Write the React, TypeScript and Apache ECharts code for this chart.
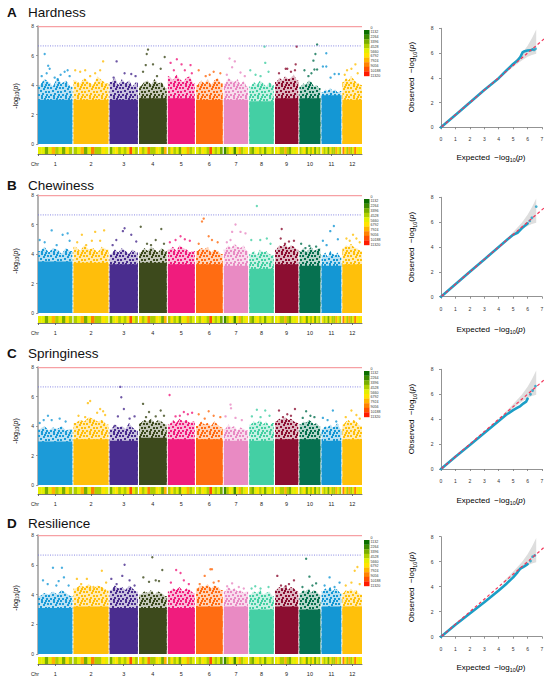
import React, { useEffect, useRef } from "react";
import * as echarts from "echarts";

// ---------- data ----------
const chrNames = ["1", "2", "3", "4", "5", "6", "7", "8", "9", "10", "11", "12"];
const chrLen = [34.4, 35.0, 28.3, 27.7, 27.0, 26.7, 24.3, 24.6, 23.3, 21.0, 19.7, 19.6];
const chrGap = 1.2;
const chrColors = ["#1C9BD8", "#FFBE0B", "#4A2D8F", "#3D4A1C", "#F01C7D", "#FF6C12", "#E98AC3", "#44CFA4", "#8C0E31", "#067150", "#1497D4", "#FFC00A"];
const traitNames = ["Hardness", "Chewiness", "Springiness", "Resilience"];
const panelLetters = ["A", "B", "C", "D"];
const thresholdRed = 7.96;
const thresholdBlue = 6.65;
const densityBreaks = [0, 1132, 2264, 3396, 4528, 5660, 6792, 7924, 9056, 10188, 11320];
const densityColors = ["#0B6E00", "#3E8A00", "#78AE00", "#B0CF00", "#E4EE00", "#FFE400", "#FFB400", "#FF8200", "#FF5000", "#FF1A00"];

const snpDensity = [
  [4600, 5500, 3200, 5000, 6900, 4100, 5300, 2600, 5800, 4400],
  [4200, 5100, 6800, 3300, 4700, 8200, 4500, 3800, 5700, 4900],
  [3000, 4800, 6200, 4300, 5100, 3600, 5900, 9400, 4600, 4100],
  [6300, 3700, 5000, 8700, 4500, 4100, 5800, 4700, 3300, 7100],
  [4400, 5800, 3800, 5200, 3100, 6000, 4600, 7600, 4000, 5100],
  [5300, 4100, 6300, 4600, 3500, 9100, 5000, 4300, 5600, 3000],
  [1600, 3900, 5900, 4700, 1200, 5200, 7200, 3800, 5000, 6500],
  [4300, 2800, 5100, 5900, 4000, 4600, 3200, 5600, 4800, 4100],
  [5000, 6000, 3700, 4500, 7700, 3900, 3300, 5200, 4600, 6300],
  [3600, 4900, 6400, 3000, 4600, 4300, 5700, 2700, 5000, 4400],
  [5900, 4000, 4900, 2900, 6700, 4500, 3800, 7400, 4700, 4200],
  [8200, 5700, 4400, 7300, 4100, 5200, 9000, 5800, 4800, 6300],
];

// solid body top of each chromosome cloud
const hardnessSolid = [3.0, 3.0, 3.0, 3.1, 3.1, 3.0, 3.0, 2.9, 3.1, 3.1, 3.3, 3.0];
const chewinessSolid = [3.5, 3.4, 3.3, 3.4, 3.3, 3.3, 3.2, 3.0, 3.3, 3.2, 3.2, 3.3];
const springinessSolid = [2.95, 3.1, 3.0, 3.2, 3.1, 3.1, 3.0, 3.0, 3.1, 3.1, 3.0, 3.1];
const resilienceSolid = [3.1, 3.2, 3.1, 3.1, 3.1, 3.2, 3.2, 3.0, 3.2, 3.0, 3.2, 3.2];

// upper edge of the dense spray (8 bins per chromosome)
const hardnessSpray = [
  [4.0, 4.4, 4.2, 3.9, 4.5, 4.1, 4.3, 3.9],
  [4.3, 4.1, 4.5, 4.2, 4.0, 4.6, 4.3, 4.1],
  [4.2, 4.5, 4.0, 4.4, 4.1, 4.3, 3.9, 4.2],
  [3.9, 4.2, 4.3, 4.0, 4.4, 4.1, 4.2, 3.8],
  [4.6, 4.3, 4.7, 4.4, 4.2, 4.5, 4.6, 4.1],
  [4.0, 4.3, 4.1, 4.4, 4.0, 4.3, 4.5, 4.1],
  [4.1, 4.5, 4.3, 4.2, 4.4, 4.0, 4.3, 3.9],
  [3.9, 4.2, 4.0, 4.3, 4.1, 3.9, 4.2, 4.0],
  [4.2, 4.5, 4.3, 4.6, 4.4, 4.5, 4.7, 4.3],
  [3.9, 4.1, 4.0, 4.3, 4.2, 3.9, 4.0, 3.8],
  [3.5, 3.7, 3.6, 3.8, 3.6, 3.7, 3.5, 3.6],
  [4.2, 4.5, 4.3, 4.6, 4.4, 4.2, 4.1, 4.0],
];
const chewinessSpray = [
  [4.2, 4.5, 4.1, 4.4, 4.3, 4.0, 4.4, 4.2],
  [4.5, 4.2, 4.6, 4.3, 4.4, 4.1, 4.5, 4.3],
  [4.0, 4.3, 4.1, 4.4, 4.2, 4.0, 4.3, 4.1],
  [4.1, 4.4, 4.2, 4.5, 4.3, 4.1, 4.4, 4.2],
  [4.3, 4.5, 4.2, 4.6, 4.4, 4.3, 4.1, 4.2],
  [4.2, 4.4, 4.3, 4.5, 4.1, 4.3, 4.2, 4.0],
  [4.3, 4.6, 4.4, 4.7, 4.5, 4.4, 4.6, 4.2],
  [4.0, 4.2, 3.9, 4.3, 4.1, 4.2, 4.0, 3.9],
  [4.3, 4.6, 4.5, 4.7, 4.4, 4.6, 4.5, 4.3],
  [4.2, 4.4, 4.1, 4.3, 4.5, 4.2, 4.3, 4.4],
  [3.9, 4.1, 3.8, 4.2, 4.0, 3.9, 4.1, 3.8],
  [4.4, 4.6, 4.5, 4.7, 4.5, 4.4, 4.3, 4.2],
];
const springinessSpray = [
  [3.8, 4.0, 3.7, 3.9, 3.8, 4.0, 3.7, 3.8],
  [4.2, 4.4, 4.3, 4.6, 4.5, 4.3, 4.4, 4.1],
  [3.8, 4.1, 3.9, 4.0, 3.8, 4.2, 3.9, 3.7],
  [4.2, 4.4, 4.3, 4.5, 4.2, 4.4, 4.3, 4.1],
  [4.1, 4.4, 4.2, 4.5, 4.3, 4.4, 4.2, 4.3],
  [4.0, 4.3, 4.1, 4.2, 4.0, 4.3, 4.1, 3.9],
  [3.8, 4.1, 3.9, 4.0, 3.7, 3.9, 3.8, 3.7],
  [4.1, 4.3, 4.2, 4.4, 4.1, 4.3, 4.0, 4.2],
  [4.3, 4.5, 4.4, 4.6, 4.4, 4.5, 4.3, 4.2],
  [4.1, 4.3, 4.2, 4.4, 4.3, 4.1, 4.2, 4.0],
  [3.8, 4.0, 3.9, 4.1, 3.9, 4.0, 4.2, 3.8],
  [4.1, 4.3, 4.4, 4.2, 4.4, 4.3, 4.1, 4.0],
];
const resilienceSpray = [
  [3.9, 4.1, 4.0, 4.2, 4.0, 4.3, 4.1, 3.9],
  [4.4, 4.6, 4.5, 4.7, 4.4, 4.6, 4.5, 4.3],
  [4.3, 4.6, 4.4, 4.5, 4.3, 4.6, 4.4, 4.2],
  [4.0, 4.2, 4.1, 4.3, 4.0, 4.2, 4.1, 3.9],
  [4.2, 4.4, 4.3, 4.5, 4.2, 4.4, 4.3, 4.1],
  [4.4, 4.6, 4.5, 4.7, 4.4, 4.6, 4.5, 4.3],
  [4.2, 4.5, 4.3, 4.4, 4.2, 4.3, 4.1, 4.2],
  [4.0, 4.2, 4.1, 4.3, 4.0, 4.1, 4.2, 3.9],
  [4.3, 4.5, 4.4, 4.6, 4.3, 4.5, 4.4, 4.2],
  [4.1, 4.3, 4.2, 4.4, 4.1, 4.3, 4.2, 4.0],
  [4.2, 4.4, 4.3, 4.5, 4.2, 4.4, 4.3, 4.1],
  [4.1, 4.3, 4.2, 4.4, 4.2, 4.3, 4.1, 4.0],
];

// top SNPs: [chromosome, position within chromosome, -log10(p)]
const hardnessPeaks = [
  [1, 6.7, 6.1], [1, 10.2, 5.3], [1, 11.7, 5.1], [1, 3.7, 4.6], [1, 8.7, 4.8], [1, 16.7, 4.5], [1, 22.7, 4.7], [1, 26.7, 4.9], [1, 29.7, 5.0], [1, 31.7, 4.6], [1, 19.7, 4.4],
  [2, 29.7, 5.6], [2, 1.7, 5.0], [2, 6.7, 4.9], [2, 11.7, 5.0], [2, 21.7, 4.8], [2, 26.7, 5.0], [2, 16.7, 4.6],
  [3, 7, 5.6], [3, 15, 4.8], [3, 21.7, 4.75], [3, 4, 4.5], [3, 26, 4.6],
  [4, 9, 6.4], [4, 7.7, 6.1], [4, 14, 5.4], [4, 6.7, 5.35], [4, 25.7, 5.9], [4, 21.7, 5.1], [4, 4, 4.9], [4, 18, 4.6],
  [5, 9, 5.75], [5, 2.7, 5.5], [5, 13.7, 5.4], [5, 22.7, 5.35], [5, 6, 5.0], [5, 17, 5.0], [5, 24, 4.8],
  [6, 2.7, 5.0], [6, 17.7, 4.9], [6, 24.4, 4.8], [6, 9.7, 4.6], [6, 13.7, 4.7],
  [7, 5.7, 5.8], [7, 11, 5.6], [7, 8.3, 5.2], [7, 16.7, 4.85], [7, 3, 4.7], [7, 21, 4.6],
  [8, 15.3, 6.6], [8, 16, 5.5], [8, 1, 5.0], [8, 19.3, 4.9], [8, 6.3, 4.7], [8, 11.3, 4.6],
  [9, 21.7, 6.6], [9, 20.7, 5.4], [9, 10.7, 5.1], [9, 12.3, 5.1], [9, 20, 5.0], [9, 4, 4.8], [9, 16, 4.9],
  [10, 17.7, 6.75], [10, 16, 6.1], [10, 14, 5.65], [10, 15, 5.05], [10, 17.7, 5.05], [10, 5, 5.0], [10, 9, 4.6], [10, 12, 4.8],
  [11, 4.7, 6.15], [11, 1.3, 5.25], [11, 4.7, 5.25], [11, 13, 4.75], [11, 17.3, 4.75], [11, 9, 4.5],
  [12, 13, 5.4], [12, 9, 5.1], [12, 4.6, 5.0], [12, 15.3, 4.8], [12, 2.3, 4.7],
];
const chewinessPeaks = [
  [1, 13.7, 5.6], [1, 29.7, 5.4], [1, 24.7, 5.3], [1, 1.7, 4.95], [1, 6.7, 4.8], [1, 18.7, 4.6], [1, 31.7, 4.9],
  [2, 21.7, 5.5], [2, 30.7, 5.6], [2, 8.4, 5.3], [2, 18.4, 4.9], [2, 3.7, 4.8], [2, 26.7, 4.9], [2, 12.7, 4.6],
  [3, 15, 5.75], [3, 13.3, 5.55], [3, 21.7, 5.3], [3, 6.7, 4.95], [3, 26.7, 4.85], [3, 3, 4.6],
  [4, 1.7, 5.85], [4, 22.3, 5.7], [4, 16.7, 4.95], [4, 8, 4.7], [4, 12, 4.6], [4, 25, 4.7],
  [5, 12.7, 5.2], [5, 7.7, 4.95], [5, 17, 5.0], [5, 2, 4.8], [5, 22, 4.9],
  [6, 7.7, 6.4], [6, 6, 6.2], [6, 12.7, 5.2], [6, 16, 4.95], [6, 21.7, 4.8], [6, 2.7, 4.7],
  [7, 11.7, 6.0], [7, 8.3, 5.5], [7, 16.7, 5.5], [7, 21.7, 5.4], [7, 6.7, 4.95], [7, 3, 4.8],
  [8, 7.6, 7.25], [8, 11, 4.95], [8, 17.6, 5.05], [8, 2, 4.95], [8, 21.3, 4.7],
  [9, 6.7, 5.7], [9, 5.7, 5.05], [9, 14, 4.85], [9, 19, 4.9], [9, 10, 4.7],
  [10, 1.7, 4.7], [10, 16.7, 4.5], [10, 10, 4.55], [10, 6, 4.4],
  [11, 12.3, 5.9], [11, 8.7, 5.55], [11, 1.3, 4.9], [11, 16.3, 5.0], [11, 5, 4.6],
  [12, 10.6, 5.3], [12, 4, 5.05], [12, 14, 5.05], [12, 7.3, 4.9], [12, 17.3, 4.8],
];
const springinessPeaks = [
  [1, 10, 4.7], [1, 21.7, 4.5], [1, 1.7, 4.2], [1, 13.7, 4.4], [1, 27.7, 4.3], [1, 5.7, 4.4],
  [2, 16.7, 5.7], [2, 14.4, 5.55], [2, 26.7, 5.15], [2, 31.7, 4.75], [2, 5, 4.7], [2, 11.7, 4.6], [2, 23.7, 4.9], [2, 29.7, 5.0],
  [3, 10.7, 6.65], [3, 11.7, 5.95], [3, 14.3, 5.15], [3, 8.3, 4.65], [3, 25, 4.65], [3, 5, 4.0], [3, 20, 4.5],
  [4, 4, 5.5], [4, 10, 4.95], [4, 21.7, 5.05], [4, 16.7, 4.65], [4, 7, 4.6], [4, 25, 4.7],
  [5, 1.7, 6.1], [5, 16, 4.95], [5, 24.3, 4.9], [5, 7.7, 4.65], [5, 12, 4.7], [5, 20, 4.8],
  [6, 12.7, 5.0], [6, 2.7, 4.8], [6, 24.4, 4.6], [6, 8.7, 4.5], [6, 17.7, 4.7],
  [7, 6.7, 5.45], [7, 7.2, 5.2], [7, 1.7, 4.65], [7, 11.7, 4.55], [7, 18, 4.4],
  [8, 7.6, 5.1], [8, 16, 5.05], [8, 2.6, 4.65], [8, 11.3, 4.6], [8, 20.3, 4.7],
  [9, 20, 5.15], [9, 4, 5.05], [9, 12.3, 4.8], [9, 16, 4.7], [9, 8, 4.6],
  [10, 6.7, 5.0], [10, 15, 4.6], [10, 3.3, 4.55], [10, 11, 4.7],
  [11, 11.3, 5.05], [11, 1.3, 4.55], [11, 14.7, 4.3], [11, 6, 4.4],
  [12, 9, 5.05], [12, 14, 4.75], [12, 3.3, 4.6], [12, 17.3, 4.5],
];
const resiliencePeaks = [
  [1, 15, 5.8], [1, 24, 5.8], [1, 26, 5.15], [1, 5, 4.95], [1, 18.4, 4.6], [1, 9.7, 4.7], [1, 30.7, 4.6], [1, 20.7, 4.9],
  [2, 28.4, 5.6], [2, 13.4, 5.05], [2, 3.4, 5.05], [2, 20, 4.5], [2, 7.7, 4.7], [2, 32.7, 4.8],
  [3, 15, 6.0], [3, 12.7, 5.25], [3, 1.7, 5.05], [3, 20, 4.95], [3, 7, 4.7], [3, 25, 4.6],
  [4, 13.3, 6.5], [4, 23.3, 5.65], [4, 4.3, 5.15], [4, 16.7, 4.95], [4, 10, 4.85], [4, 20, 4.9],
  [5, 8.3, 5.65], [5, 12.7, 5.45], [5, 16, 4.95], [5, 3, 4.8], [5, 21, 4.7],
  [6, 14.4, 5.7], [6, 16, 5.7], [6, 8.7, 5.25], [6, 17.7, 4.8], [6, 3.7, 4.7], [6, 22.7, 4.9],
  [7, 8.3, 4.75], [7, 3.3, 4.55], [7, 15, 4.5], [7, 20, 4.4],
  [8, 6, 4.55], [8, 19.3, 4.5], [8, 11.3, 4.4], [8, 2.3, 4.4],
  [9, 2.3, 5.25], [9, 19, 4.95], [9, 10.7, 4.55], [9, 14, 4.7], [9, 6, 4.6],
  [10, 6.7, 6.4], [10, 10, 5.2], [10, 16.7, 4.75], [10, 3, 4.5], [10, 13, 4.6],
  [11, 8, 5.15], [11, 18, 4.8], [11, 3, 4.6], [11, 13, 4.5],
  [12, 15, 5.85], [12, 12.3, 5.6], [12, 9, 4.8], [12, 3.3, 4.6], [12, 17.3, 4.7],
];

// QQ plots
const qqDiagonal = [[-0.25, -0.25], [7.25, 7.25]];
const qqBandExpected = [4.3, 4.8, 5.2, 5.6, 6.0, 6.3, 6.6];
const qqBandUpper = [4.4, 4.95, 5.45, 5.95, 6.6, 7.2, 7.9];
const qqBandLower = [4.25, 4.7, 5.05, 5.4, 5.7, 5.85, 5.95];
const hardnessQQ = [[0, 0], [1, 1.0], [2, 2.0], [3, 3.02], [4, 3.97], [4.5, 4.55], [5, 5.12], [5.3, 5.4], [5.5, 5.68], [5.65, 6.05], [5.8, 6.15], [6.0, 6.2], [6.2, 6.22], [6.35, 6.3]];
const hardnessQQTail = [[6.45, 6.25], [6.55, 6.35]];
const chewinessQQ = [[0, 0], [1, 1], [2, 2], [3, 3], [4, 4], [4.6, 4.6], [5, 4.98], [5.3, 5.15], [5.6, 5.5], [5.8, 5.7], [6.0, 5.9]];
const chewinessQQTail = [[6.15, 6.1], [6.3, 6.35], [6.6, 7.25]];
const springinessQQ = [[0, 0], [1, 0.98], [2, 1.92], [3, 2.88], [4, 3.85], [4.5, 4.33], [5, 4.72], [5.3, 4.92], [5.5, 5.05], [5.7, 5.25], [5.9, 5.4], [6.0, 5.65]];
const springinessQQTail = [[6.2, 6.0], [6.35, 6.3], [6.55, 6.65]];
const resilienceQQ = [[0, 0], [1, 0.95], [2, 1.85], [3, 2.75], [4, 3.7], [4.5, 4.2], [5, 4.75], [5.3, 5.15], [5.5, 5.45], [5.8, 5.65], [6.0, 5.8]];
const resilienceQQTail = [[6.2, 6.05], [6.35, 6.4], [6.5, 6.5]];

// ---------- layout (pixels) ----------
const layout = [
  { title: 12, man: [26, 144], strip: 147, legend: 30, ytitle: 96, qq: [28.3, 127.3], obs: 77, exp: 157 },
  { title: 185, man: [195, 313], strip: 316, legend: 199, ytitle: 261, qq: [197.3, 296.7], obs: 247, exp: 329 },
  { title: 353, man: [367, 485], strip: 487, legend: 371, ytitle: 431, qq: [369.3, 469], obs: 419, exp: 500 },
  { title: 523, man: [535, 654], strip: 657, legend: 540, ytitle: 598, qq: [536.7, 636.7], obs: 587, exp: 667 },
];

const FONT = "Liberation Sans";
// speckle tile for the sparse part of each SNP cloud (style only)
const speckleTile = [[0, 0], [5, 1], [9, 0], [2, 3], [7, 4], [11, 3], [4, 6], [0, 7], [9, 7], [6, 9], [2, 10], [10, 10], [5, 11], [8, 2]];
const TILE = 12;

const chrStart: number[] = [];
{
  let acc = 0;
  chrLen.forEach((l) => {
    chrStart.push(acc);
    acc += l + chrGap;
  });
}
const totalLen = chrStart[11] + chrLen[11];
const chrCenters = chrLen.map((l, i) => chrStart[i] + l / 2);

const densityColor = (v: number) => densityColors[Math.min(densityColors.length - 1, Math.floor(v / densityBreaks[1]))];

const panels = [
  { solid: hardnessSolid, spray: hardnessSpray, peaks: hardnessPeaks, qq: hardnessQQ, tail: hardnessQQTail },
  { solid: chewinessSolid, spray: chewinessSpray, peaks: chewinessPeaks, qq: chewinessQQ, tail: chewinessQQTail },
  { solid: springinessSolid, spray: springinessSpray, peaks: springinessPeaks, qq: springinessQQ, tail: springinessQQTail },
  { solid: resilienceSolid, spray: resilienceSpray, peaks: resiliencePeaks, qq: resilienceQQ, tail: resilienceQQTail },
];

function makePattern(color: string): any {
  const cv = document.createElement("canvas");
  cv.width = TILE;
  cv.height = TILE;
  const ctx = cv.getContext("2d");
  if (!ctx) return color;
  ctx.fillStyle = color;
  speckleTile.forEach(([x, y]) => {
    ctx.fillRect(x, y, 2, 2);
    if (x + 2 > TILE) ctx.fillRect(x - TILE, y, 2, 2);
    if (y + 2 > TILE) ctx.fillRect(x, y - TILE, 2, 2);
  });
  return { image: cv, repeat: "repeat" };
}

function logRich(size: number) {
  return {
    n: { fontSize: size, fontFamily: FONT, color: "#222", lineHeight: size + 3 },
    s: { fontSize: size * 0.68, fontFamily: FONT, color: "#222", verticalAlign: "bottom", lineHeight: size + 3 },
    i: { fontSize: size, fontFamily: FONT, color: "#222", fontStyle: "italic", lineHeight: size + 3 },
  };
}

function buildOption() {
  const grid: any[] = [];
  const xAxis: any[] = [];
  const yAxis: any[] = [];
  const series: any[] = [];
  const graphic: any[] = [];
  const patterns = chrColors.map((c) => makePattern(c));

  panels.forEach((p, k) => {
    const L = layout[k];

    // ---- Manhattan grid ----
    const gM = grid.length;
    grid.push({ left: 38, top: L.man[0], width: 324, height: L.man[1] - L.man[0], outerBoundsMode: "none" });
    xAxis.push({ gridIndex: gM, type: "value", min: 0, max: totalLen, show: false });
    yAxis.push({
      gridIndex: gM, type: "value", min: 0, max: 8, interval: 2, offset: 1,
      axisLine: { show: true, lineStyle: { color: "#a0a0a0", width: 1.6 } },
      axisTick: { show: true, length: 2, lineStyle: { color: "#888", width: 0.8 } },
      axisLabel: { fontSize: 5, color: "#333", margin: 3, fontFamily: FONT },
      splitLine: { show: false },
    });

    series.push({
      type: "custom", xAxisIndex: gM, yAxisIndex: gM, silent: true,
      data: chrLen.map((_, i) => [i]),
      renderItem: (params: any, api: any) => {
        const c = params.dataIndex;
        const x0 = chrStart[c];
        const len = chrLen[c];
        const prof = p.spray[c];
        const n = prof.length;
        const pts: number[][] = [api.coord([x0, 0]), api.coord([x0, prof[0]])];
        prof.forEach((v: number, i: number) => pts.push(api.coord([x0 + (len * (i + 0.5)) / n, v])));
        pts.push(api.coord([x0 + len, prof[n - 1]]), api.coord([x0 + len, 0]));
        const a = api.coord([x0, p.solid[c]]);
        const b = api.coord([x0 + len, 0]);
        return {
          type: "group",
          children: [
            { type: "polygon", shape: { points: pts }, style: { fill: chrColors[c], opacity: 0.3 } },
            { type: "polygon", shape: { points: pts }, style: { fill: patterns[c] } },
            { type: "rect", shape: { x: a[0], y: a[1], width: b[0] - a[0], height: b[1] - a[1] }, style: { fill: chrColors[c] } },
          ],
        };
      },
    });

    series.push({
      type: "scatter", xAxisIndex: gM, yAxisIndex: gM, silent: true, symbolSize: 2.4,
      data: p.peaks.map(([c, pos, v]) => ({ value: [chrStart[c - 1] + pos, v], itemStyle: { color: chrColors[c - 1] } })),
    });

    series.push({
      type: "line", xAxisIndex: gM, yAxisIndex: gM, silent: true, symbol: "none", clip: false,
      data: [[0, thresholdRed], [totalLen, thresholdRed]],
      lineStyle: { color: "#F6A0A4", width: 1.4 },
    });
    series.push({
      type: "line", xAxisIndex: gM, yAxisIndex: gM, silent: true, symbol: "none", clip: false,
      data: [[0, thresholdBlue], [totalLen, thresholdBlue]],
      lineStyle: { color: "#7C7CE0", width: 0.9, type: [1, 1.4] },
    });

    // ---- density strip ----
    const gS = grid.length;
    grid.push({ left: 38, top: L.strip, width: 324, height: 7, outerBoundsMode: "none" });
    xAxis.push({
      gridIndex: gS, type: "value", min: 0, max: totalLen, offset: 1.5,
      axisLine: { show: true, lineStyle: { color: "#555", width: 0.8 } },
      axisTick: { show: true, length: 2, customValues: [0, ...chrCenters], lineStyle: { color: "#555", width: 0.8 } },
      axisLabel: {
        show: true, customValues: chrCenters, fontSize: 5.5, color: "#222", margin: 5.5, fontFamily: FONT,
        formatter: (v: number) => {
          let best = 0;
          chrCenters.forEach((c, i) => { if (Math.abs(c - v) < Math.abs(chrCenters[best] - v)) best = i; });
          return chrNames[best];
        },
      },
      splitLine: { show: false },
    });
    yAxis.push({ gridIndex: gS, type: "value", min: 0, max: 1, show: false });
    const stripData: number[][] = [];
    snpDensity.forEach((row, c) => row.forEach((v, b) => stripData.push([c, b, v])));
    series.push({
      type: "custom", xAxisIndex: gS, yAxisIndex: gS, silent: true,
      data: stripData,
      renderItem: (params: any, api: any) => {
        const c = api.value(0);
        const b = api.value(1);
        const v = api.value(2);
        const n = snpDensity[c].length;
        const xa = chrStart[c] + (chrLen[c] * b) / n;
        const xb = chrStart[c] + (chrLen[c] * (b + 1)) / n;
        const p0 = api.coord([xa, 1]);
        const p1 = api.coord([xb, 0]);
        return {
          type: "rect",
          shape: { x: p0[0], y: p0[1], width: p1[0] - p0[0] + (b < n - 1 ? 0.3 : 0), height: p1[1] - p0[1] },
          style: { fill: densityColor(v) },
        };
      },
    });

    // ---- QQ plot ----
    const gQ = grid.length;
    grid.push({ left: 441, top: L.qq[0], width: 101, height: L.qq[1] - L.qq[0], outerBoundsMode: "none" });
    xAxis.push({
      gridIndex: gQ, type: "value", min: 0, max: 7, interval: 1, offset: 6,
      axisLine: { show: true, lineStyle: { color: "#777", width: 0.8 } },
      axisTick: { show: true, length: 2, lineStyle: { color: "#777", width: 0.8 } },
      axisLabel: { fontSize: 5, color: "#333", margin: 3.5, fontFamily: FONT },
      splitLine: { show: false },
    });
    yAxis.push({
      gridIndex: gQ, type: "value", min: 0, max: 8, interval: 2, offset: 4,
      axisLine: { show: true, lineStyle: { color: "#777", width: 0.8 } },
      axisTick: { show: true, length: 2, lineStyle: { color: "#777", width: 0.8 } },
      axisLabel: { fontSize: 5, color: "#333", margin: 3.5, fontFamily: FONT },
      splitLine: { show: false },
    });
    series.push({
      type: "custom", xAxisIndex: gQ, yAxisIndex: gQ, silent: true, data: [[0, 0]],
      renderItem: (params: any, api: any) => {
        const pts: number[][] = [];
        qqBandExpected.forEach((e, i) => pts.push(api.coord([e, qqBandUpper[i]])));
        for (let i = qqBandExpected.length - 1; i >= 0; i--) pts.push(api.coord([qqBandExpected[i], qqBandLower[i]]));
        return { type: "polygon", shape: { points: pts }, style: { fill: "#DEDEDE" } };
      },
    });
    series.push({
      type: "line", xAxisIndex: gQ, yAxisIndex: gQ, silent: true, symbol: "none", clip: false,
      data: p.qq, lineStyle: { color: "#1C9EC6", width: 2.6, cap: "round", join: "round" }, z: 3,
    });
    series.push({
      type: "scatter", xAxisIndex: gQ, yAxisIndex: gQ, silent: true, symbolSize: 2.8, clip: false,
      data: p.tail, itemStyle: { color: "#1C9EC6" }, z: 3,
    });
    series.push({
      type: "line", xAxisIndex: gQ, yAxisIndex: gQ, silent: true, symbol: "none", clip: false,
      data: qqDiagonal, lineStyle: { color: "#F2355A", width: 1.2, type: [3, 2.5] }, z: 4,
    });

    // ---- texts ----
    graphic.push({ type: "text", x: 7, y: L.title, style: { text: panelLetters[k], fontSize: 13.5, fontWeight: "bold", fontFamily: FONT, fill: "#111", verticalAlign: "middle" } });
    graphic.push({ type: "text", x: 28, y: L.title, style: { text: traitNames[k], fontSize: 13.5, fontFamily: FONT, fill: "#111", verticalAlign: "middle" } });
    graphic.push({
      type: "text", x: 15, y: L.ytitle, rotation: Math.PI / 2,
      style: { text: "{n|-log}{s|10}{n|(}{i|p}{n|)}", rich: logRich(7), align: "center", verticalAlign: "middle" },
    });
    graphic.push({ type: "text", x: 35, y: L.strip + 17, style: { text: "Chr", fontSize: 5, fontFamily: FONT, fill: "#222", align: "center", verticalAlign: "middle" } });
    graphic.push({
      type: "text", x: 411.5, y: L.obs, rotation: Math.PI / 2,
      style: { text: "{n|Observed  −log}{s|10}{n|(}{i|p}{n|)}", rich: logRich(8), align: "center", verticalAlign: "middle" },
    });
    graphic.push({
      type: "text", x: 491, y: L.exp,
      style: { text: "{n|Expected  −log}{s|10}{n|(}{i|p}{n|)}", rich: logRich(8), align: "center", verticalAlign: "middle" },
    });

    // ---- density legend ----
    const boxH = 4.6;
    densityColors.forEach((col, j) => {
      graphic.push({ type: "rect", shape: { x: 364, y: L.legend + j * boxH, width: 5.5, height: boxH + 0.2 }, style: { fill: col } });
    });
    densityBreaks.forEach((b, i) => {
      graphic.push({
        type: "text", x: 370.5, y: L.legend - 2.3 + i * 4.78,
        style: { text: String(b), fontSize: 3.6, fontFamily: FONT, fill: "#333", verticalAlign: "middle" },
      });
    });
  });

  return {
    animation: false,
    backgroundColor: "#ffffff",
    textStyle: { fontFamily: FONT },
    grid, xAxis, yAxis, series, graphic,
  };
}

export default function App() {
  const ref = useRef<HTMLDivElement>(null);
  useEffect(() => {
    document.body.style.margin = "0";
    const chart = echarts.init(ref.current as HTMLDivElement, null, { renderer: "svg" });
    chart.setOption(buildOption() as any);
    return () => chart.dispose();
  }, []);
  return <div ref={ref} style={{ width: 550, height: 680 }} />;
}
